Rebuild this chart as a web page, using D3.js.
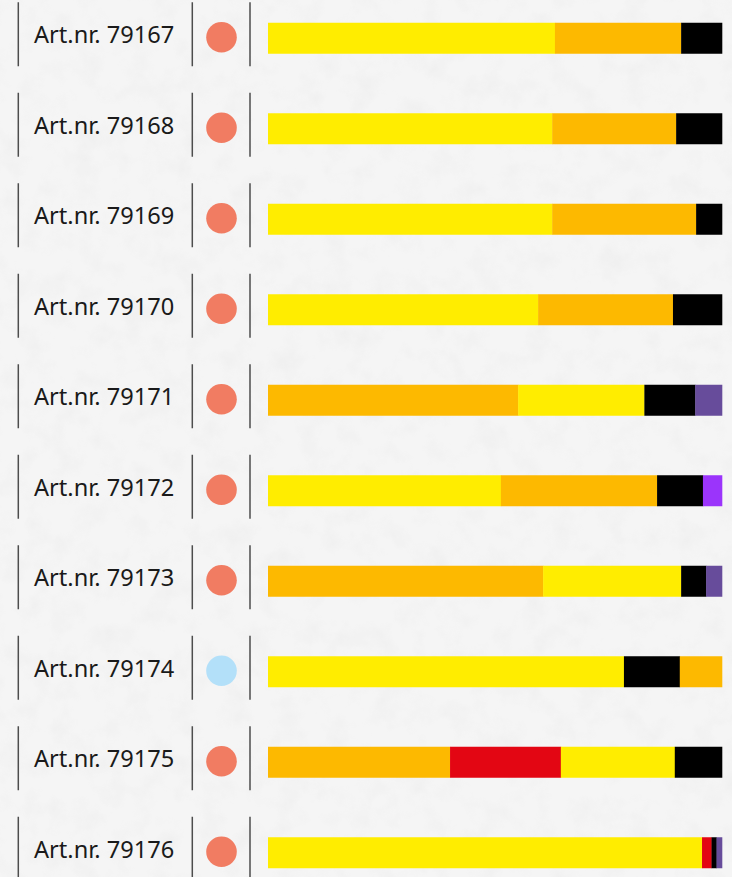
<!DOCTYPE html>
<html>
<head>
<meta charset="utf-8">
<script src="https://cdn.jsdelivr.net/npm/d3@7"></script>
<style>
  html, body { margin: 0; padding: 0; background: #f4f4f4; overflow: hidden; }
  svg { display: block; }
</style>
</head>
<body>
<div id="chart"></div>
<script>
// Article numbers, top to bottom
const articles = ["79167", "79168", "79169", "79170", "79171", "79172", "79173", "79174", "79175", "79176"];

// status dot per article
const status = ["red", "red", "red", "red", "red", "red", "red", "blue", "red", "red"];

// colour order of the segments in each bar (left to right)
const segColors = [
  ["yellow", "orange", "black"],
  ["yellow", "orange", "black"],
  ["yellow", "orange", "black"],
  ["yellow", "orange", "black"],
  ["orange", "yellow", "black", "purple"],
  ["yellow", "orange", "black", "violet"],
  ["orange", "yellow", "black", "purple"],
  ["yellow", "black", "orange"],
  ["orange", "red", "yellow", "black"],
  ["yellow", "red", "black", "purple"]
];

// segment shares in percent
const segValues = [
  [63.2, 27.8, 9.0],
  [62.6, 27.3, 10.1],
  [62.6, 31.7, 5.7],
  [59.5, 29.7, 10.8],
  [55.1, 27.8, 11.2, 5.9],
  [51.3, 34.4, 10.1, 4.2],
  [60.6, 30.4, 5.5, 3.5],
  [78.4, 12.3, 9.3],
  [40.1, 24.4, 25.1, 10.4],
  [95.6, 2.1, 1.1, 1.2]
];

const palette = {
  yellow: "#ffed00",
  orange: "#fdb900",
  black: "#000000",
  purple: "#674c9b",
  violet: "#9b34fb",
  red: "#e30613"
};
const dotColors = { red: "#f17c62", blue: "#b3e0f9" };

const width = 732;
const height = 877;

const svg = d3.select("#chart")
  .append("svg")
  .attr("width", width)
  .attr("height", height);

// paper texture
const defs = svg.append("defs");
const f = defs.append("filter").attr("id", "paper").attr("x", 0).attr("y", 0).attr("width", "100%").attr("height", "100%");
f.append("feTurbulence").attr("type", "fractalNoise").attr("baseFrequency", 0.04).attr("numOctaves", 4).attr("seed", 3);
f.append("feColorMatrix").attr("type", "matrix")
  .attr("values", "0 0 0 0 0.55  0 0 0 0 0.55  0 0 0 0 0.55  0 0 0 -1.6 0.9");

svg.append("rect").attr("width", width).attr("height", height).attr("fill", "#f5f5f5");
svg.append("rect").attr("width", width).attr("height", height).attr("filter", "url(#paper)").attr("opacity", 0.13);

// scales
const y = d3.scaleBand()
  .domain(articles)
  .range([-7, 898])
  .paddingInner(0)
  .align(0);

const x = d3.scaleLinear()
  .domain([0, 100])
  .range([268, 722]);

const barH = 31;
const lineX = [18.3, 192.3, 250];

const rows = svg.selectAll(".row")
  .data(articles)
  .enter()
  .append("g")
  .attr("class", "row")
  .attr("transform", d => `translate(0,${y(d) + y.bandwidth() / 2})`);

// separator lines
rows.selectAll(".sep")
  .data(lineX)
  .enter()
  .append("line")
  .attr("class", "sep")
  .attr("x1", d => d).attr("x2", d => d)
  .attr("y1", -36).attr("y2", 28)
  .attr("stroke", "#4d4d4d")
  .attr("stroke-width", 1.5);

// labels
rows.append("text")
  .attr("x", 34)
  .attr("y", 5)
  .attr("font-family", "'Noto Sans', sans-serif")
  .attr("font-size", "23.6px")
  .attr("fill", "#1a1a1a")
  .text(d => `Art.nr. ${d}`);

// status dots
rows.append("circle")
  .attr("cx", 221.5)
  .attr("cy", -1)
  .attr("r", 15.3)
  .attr("fill", (d, i) => dotColors[status[i]]);

// stacked bars
rows.each(function(d, i) {
  let acc = 0;
  const segs = segValues[i].map((v, j) => {
    const s = { start: acc, value: v, color: palette[segColors[i][j]] };
    acc += v;
    return s;
  });
  const total = acc;
  d3.select(this).selectAll(".seg")
    .data(segs)
    .enter()
    .append("rect")
    .attr("class", "seg")
    .attr("x", s => x(s.start / total * 100))
    .attr("y", -barH / 2)
    .attr("width", s => x((s.start + s.value) / total * 100) - x(s.start / total * 100) + 0.3)
    .attr("height", barH)
    .attr("fill", s => s.color);
});
</script>
</body>
</html>
